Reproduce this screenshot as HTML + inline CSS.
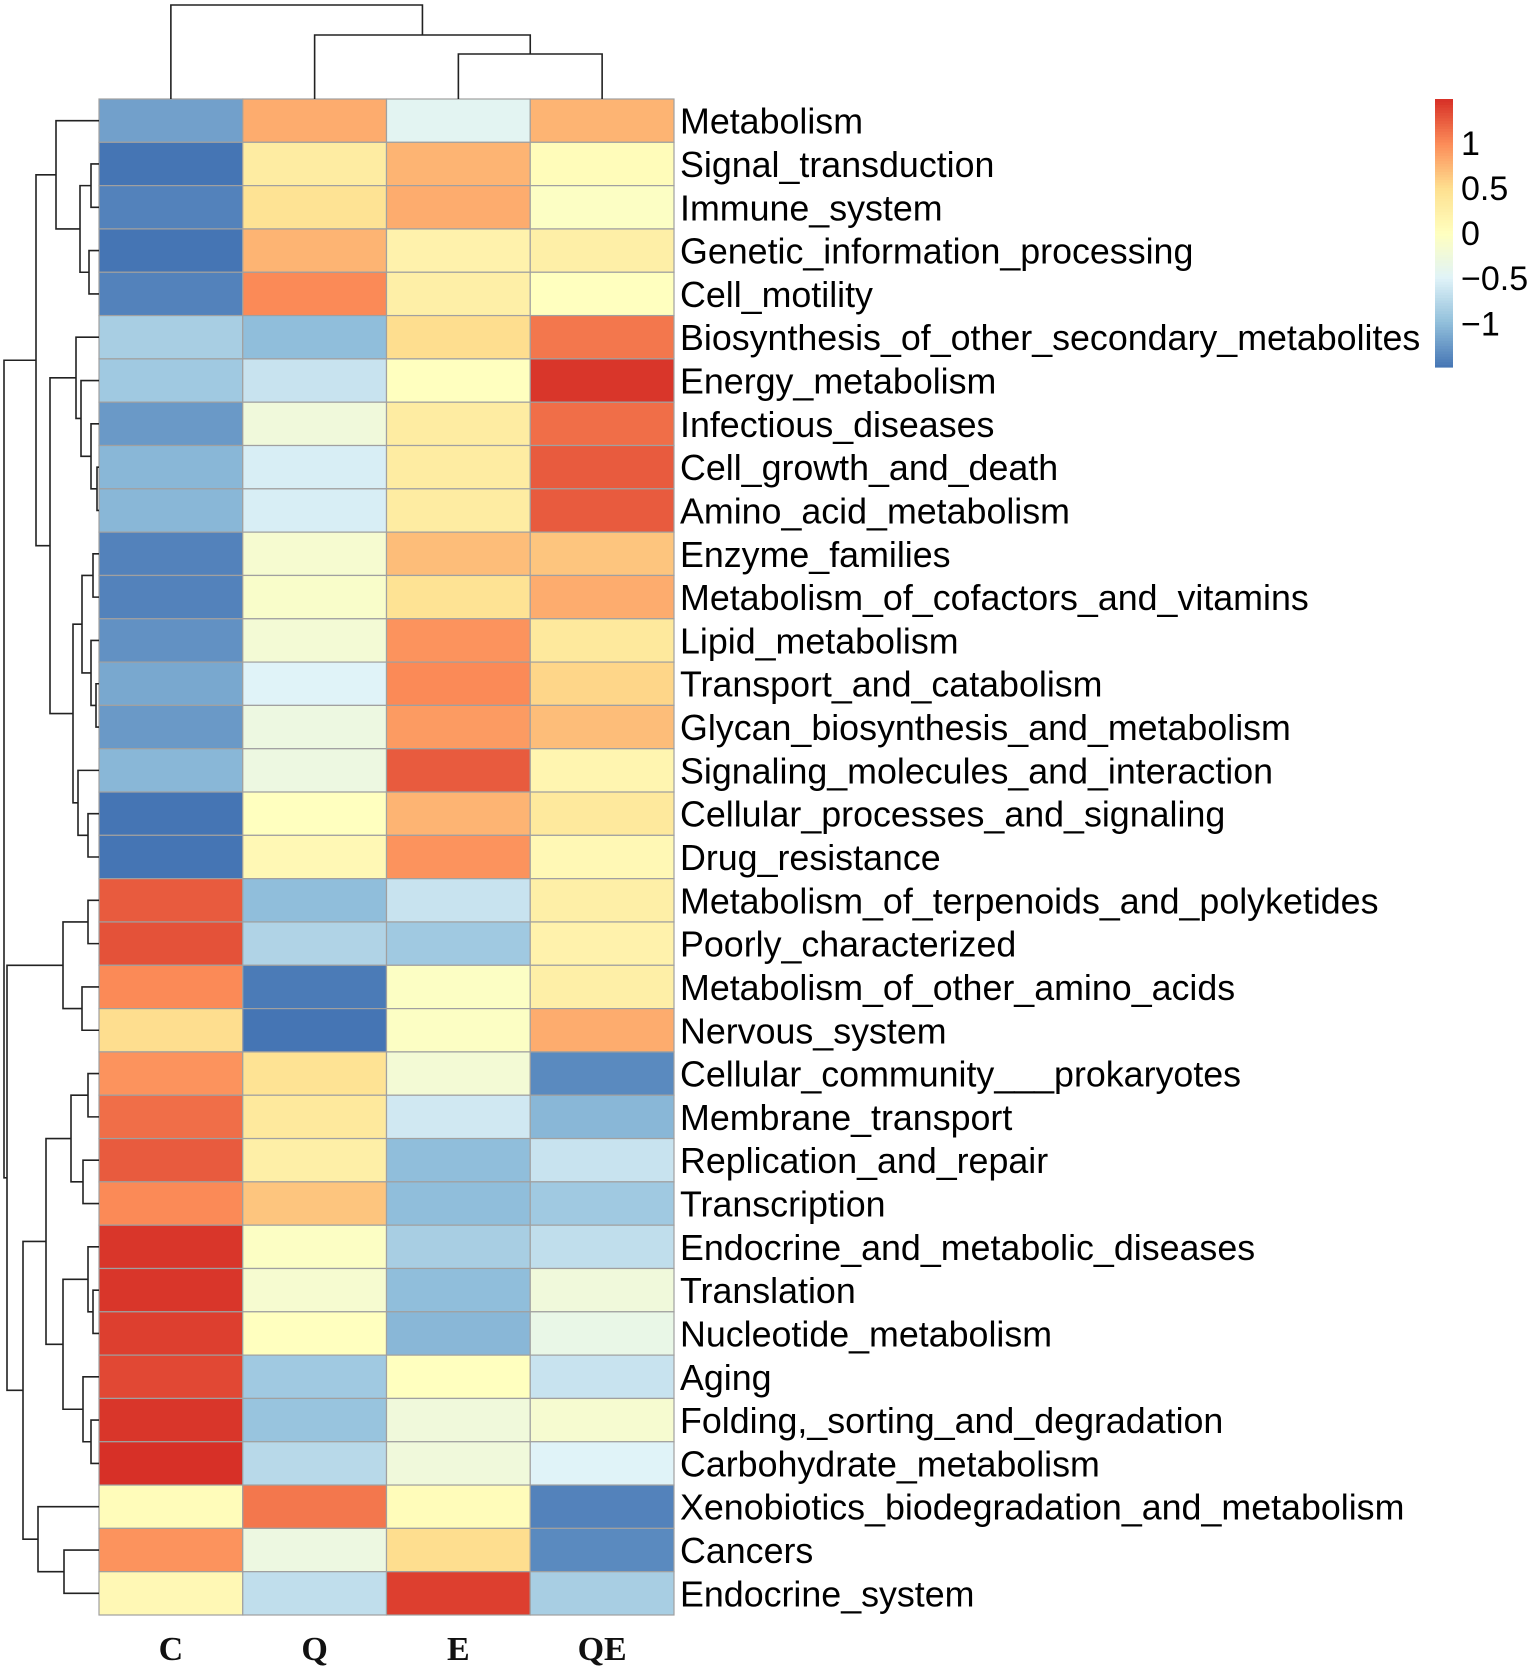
<!DOCTYPE html>
<html><head><meta charset="utf-8">
<style>
html,body{margin:0;padding:0;background:#fff;}
svg{display:block;}
</style></head>
<body>
<svg id="chart" width="1535" height="1673" xmlns="http://www.w3.org/2000/svg">
<g id="cells"></g>
<g id="rowlabels"></g>
<g id="collabels"></g>
<g id="rowdend"></g>
<g id="coldend"></g>
<g id="legend"></g>
</svg>
<script>
const columns = ["C","Q","E","QE"];
const rows = ["Metabolism","Signal_transduction","Immune_system","Genetic_information_processing","Cell_motility","Biosynthesis_of_other_secondary_metabolites","Energy_metabolism","Infectious_diseases","Cell_growth_and_death","Amino_acid_metabolism","Enzyme_families","Metabolism_of_cofactors_and_vitamins","Lipid_metabolism","Transport_and_catabolism","Glycan_biosynthesis_and_metabolism","Signaling_molecules_and_interaction","Cellular_processes_and_signaling","Drug_resistance","Metabolism_of_terpenoids_and_polyketides","Poorly_characterized","Metabolism_of_other_amino_acids","Nervous_system","Cellular_community___prokaryotes","Membrane_transport","Replication_and_repair","Transcription","Endocrine_and_metabolic_diseases","Translation","Nucleotide_metabolism","Aging","Folding,_sorting_and_degradation","Carbohydrate_metabolism","Xenobiotics_biodegradation_and_metabolism","Cancers","Endocrine_system"];
const valuesC = [-1.15,-1.45,-1.35,-1.5,-1.35,-0.8,-0.85,-1.2,-1.0,-1.0,-1.35,-1.35,-1.25,-1.1,-1.2,-1.0,-1.5,-1.45,1.3,1.35,1.05,0.55,1.0,1.2,1.3,1.05,1.5,1.5,1.45,1.4,1.5,1.55,0.1,1.0,0.15];
const valuesQ = [0.85,0.35,0.5,0.8,1.05,-0.95,-0.6,-0.2,-0.5,-0.5,-0.1,-0.05,-0.15,-0.45,-0.25,-0.25,0.05,0.15,-0.95,-0.75,-1.4,-1.45,0.5,0.4,0.3,0.7,0.0,-0.1,0.05,-0.85,-0.9,-0.7,1.15,-0.25,-0.65];
const valuesE = [-0.4,0.8,0.85,0.25,0.3,0.55,0.05,0.35,0.35,0.35,0.75,0.5,1.0,1.05,0.95,1.3,0.8,1.0,-0.6,-0.85,0.0,0.0,-0.15,-0.55,-0.95,-0.95,-0.8,-0.95,-1.0,0.05,-0.2,-0.2,0.1,0.55,1.45];
const valuesQE = [0.8,0.1,0.0,0.3,0.05,1.15,1.5,1.2,1.3,1.3,0.7,0.85,0.4,0.6,0.75,0.2,0.4,0.15,0.3,0.25,0.3,0.85,-1.3,-1.0,-0.6,-0.85,-0.65,-0.2,-0.3,-0.6,-0.1,-0.45,-1.35,-1.3,-0.8];
const legendTicks = [1,0.5,0,-0.5,-1];
const legendTickLabels = ["1","0.5","0","\u22120.5","\u22121"];
const colorMin = -1.44, colorMax = 1.53;

const NS="http://www.w3.org/2000/svg";
const X0=99, X1=674, Y0=99, Y1=1615;
const cw=(X1-X0)/columns.length, rh=(Y1-Y0)/rows.length;
const series=[valuesC,valuesQ,valuesE,valuesQE];
const pal=["#4575B4","#91BFDB","#E0F3F8","#FFFFBF","#FEE090","#FC8D59","#D73027"];
function hex(h){return [1,3,5].map(i=>parseInt(h.substr(i,2),16));}
function color(v){
  let t=(v-colorMin)/(colorMax-colorMin); t=Math.max(0,Math.min(1,t));
  const p=t*(pal.length-1), i=Math.min(pal.length-2,Math.floor(p)), f=p-i;
  const a=hex(pal[i]), b=hex(pal[i+1]);
  return "rgb("+a.map((c,k)=>Math.round(c+(b[k]-c)*f)).join(",")+")";
}
function xCol(i){return X0+cw*i;}
function yRow(r){return Y0+rh*r;}
function mk(tag,attrs,parent){const e=document.createElementNS(NS,tag);for(const k in attrs)e.setAttribute(k,attrs[k]);parent.appendChild(e);return e;}

const cells=document.getElementById('cells');
series.forEach((vals,ci)=>{vals.forEach((v,ri)=>{
  const r=mk('rect',{x:xCol(ci),y:yRow(ri),width:cw,height:rh,fill:color(v),stroke:'#a0a0a0','stroke-width':1.2},cells);
  
  
});});

const rl=document.getElementById('rowlabels');
rows.forEach((n,ri)=>{
  const t=mk('text',{x:680,y:yRow(ri)+rh/2+13,'font-family':'Liberation Sans, Arial, sans-serif','font-size':35.8,fill:'#000'},rl);
  t.textContent=n;
  
  
});
const cl=document.getElementById('collabels');
columns.forEach((n,ci)=>{
  const t=mk('text',{x:xCol(ci)+cw/2,y:1660,'text-anchor':'middle','font-family':'Liberation Serif, serif','font-weight':'bold','font-size':34,fill:'#111'},cl);
  t.textContent=n;
  
  
});

function L(i){return {leaf:i};}
function N(a,b,x){return {a:a,b:b,x:x};}
const top1=N(L(0),N(N(L(1),L(2),91),N(L(3),L(4),89),80),56);
const g59=N(L(5),N(L(6),N(L(7),N(L(8),L(9),97),91),81),76);
const g1017=N(N(N(L(10),L(11),93),N(L(12),N(L(13),L(14),96),91),82),N(L(15),N(L(16),L(17),88),78),73);
const topAll=N(top1,N(g59,g1017,50),36);
const g1821=N(N(L(18),L(19),88),N(L(20),L(21),82),63);
const g2225=N(N(L(22),L(23),88),N(L(24),L(25),83),71);
const g2631=N(N(L(26),N(L(27),L(28),93),88),N(L(29),N(L(30),L(31),91),83),63);
const g3234=N(L(32),N(L(33),L(34),64),38);
const bot=N(g1821,N(N(g2225,g2631,46),g3234,23),7);
const rootR=N(topAll,bot,4);
const rd=document.getElementById('rowdend');
function drawR(n){
  if(n.leaf!==undefined) return {y:yRow(n.leaf)+rh/2,x:X0};
  const A=drawR(n.a),B=drawR(n.b);
  const p=mk('path',{d:`M${A.x},${A.y}H${n.x}V${B.y}H${B.x}`,fill:'none',stroke:'#222','stroke-width':1.6},rd);
  
  
  return {y:(A.y+B.y)/2,x:n.x};
}
drawR(rootR);
const rootC=N(L(0),N(L(1),N(L(2),L(3),54),35),5);
const cd=document.getElementById('coldend');
function drawC(n){
  if(n.leaf!==undefined) return {x:xCol(n.leaf)+cw/2,y:Y0};
  const A=drawC(n.a),B=drawC(n.b);
  const p=mk('path',{d:`M${A.x},${A.y}V${n.x}H${B.x}V${B.y}`,fill:'none',stroke:'#222','stroke-width':1.6},cd);
  
  
  return {x:(A.x+B.x)/2,y:n.x};
}
drawC(rootC);

const lg=document.getElementById('legend');
const LY0=99, LY1=367, LX=1435, LW=18;
function yLeg(v){return LY1-(v-colorMin)/(colorMax-colorMin)*(LY1-LY0);}
const steps=100;
for(let i=0;i<steps;i++){
  const v=colorMin+(colorMax-colorMin)*(i+0.5)/steps;
  const ya=LY1-(LY1-LY0)*(i+1)/steps;
  const r=mk('rect',{x:LX,y:ya,width:LW,height:(LY1-LY0)/steps+0.6,fill:color(v)},lg);
  
  
}
legendTicks.forEach((v,i)=>{
  const t=mk('text',{x:1461,y:yLeg(v)+8,'font-family':'Liberation Sans, Arial, sans-serif','font-size':34,fill:'#000'},lg);
  t.textContent=legendTickLabels[i];
  
  
});
</script>
</body></html>
